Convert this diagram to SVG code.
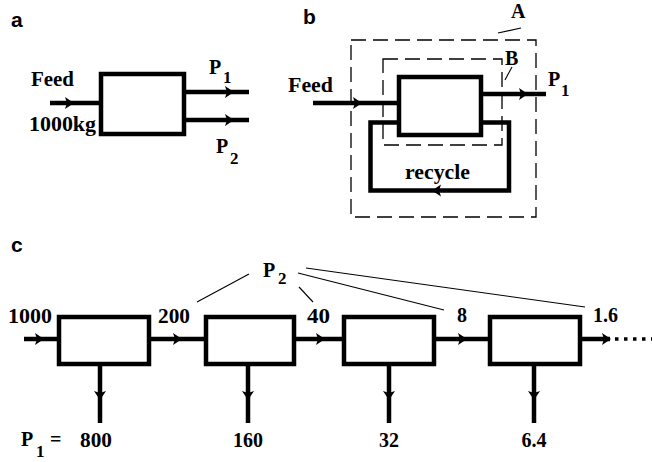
<svg xmlns="http://www.w3.org/2000/svg" xmlns:xlink="http://www.w3.org/1999/xlink" width="652" height="462" viewBox="0 0 652 462">
<style>
.lbl{font-family:"Liberation Sans",Arial,sans-serif;font-weight:bold;font-size:21px;fill:#000}
.t{font-family:"Liberation Serif","Times New Roman",serif;font-weight:bold;font-size:20px;fill:#000}
.s{font-family:"Liberation Serif","Times New Roman",serif;font-weight:bold;font-size:17px;fill:#000}
.box{fill:#fff;stroke:#000;stroke-width:4.5}
.ln{fill:none;stroke:#000;stroke-width:4.5}
.dash{fill:none;stroke:#000;stroke-width:1.3;stroke-dasharray:15,7}
.thin{fill:none;stroke:#000;stroke-width:1.1}
</style>
<defs>
<path id="ar" d="M-9,-6 L0,0 L-9,6 L-7,0 Z" fill="#000"/>
</defs>
<rect width="652" height="462" fill="#fff"/>

<!-- panel labels -->
<text class="lbl" x="11" y="27">a</text>
<text class="lbl" x="303" y="24">b</text>
<text class="lbl" x="11" y="252">c</text>

<!-- connectors -->
<g id="connectors">
  <!-- panel a -->
  <line class="ln" x1="50" y1="103" x2="100" y2="103"/>
  <use xlink:href="#ar" transform="translate(74,103)"/>
  <line class="ln" x1="184" y1="92" x2="249" y2="92"/>
  <use xlink:href="#ar" transform="translate(234,92)"/>
  <line class="ln" x1="184" y1="120" x2="249" y2="120"/>
  <use xlink:href="#ar" transform="translate(234,120)"/>

  <!-- panel b -->
  <line class="ln" x1="313" y1="103" x2="398" y2="103"/>
  <use xlink:href="#ar" transform="translate(362,103)"/>
  <line class="ln" x1="481" y1="94" x2="546" y2="94"/>
  <use xlink:href="#ar" transform="translate(528,94)"/>
  <polyline class="ln" points="481,122.5 509,122.5 509,190.5 370.5,190.5 370.5,122.5 398,122.5"/>
  <use xlink:href="#ar" transform="translate(432,190.5) rotate(180)"/>

  <!-- panel c horizontal -->
  <line class="ln" x1="24" y1="339" x2="59" y2="339"/>
  <use xlink:href="#ar" transform="translate(44,339)"/>
  <line class="ln" x1="149" y1="339" x2="206" y2="339"/>
  <use xlink:href="#ar" transform="translate(182,339)"/>
  <line class="ln" x1="294" y1="339" x2="344" y2="339"/>
  <use xlink:href="#ar" transform="translate(325,339)"/>
  <line class="ln" x1="434" y1="339" x2="490" y2="339"/>
  <use xlink:href="#ar" transform="translate(467,339)"/>
  <line class="ln" x1="580" y1="339" x2="610" y2="339"/>
  <use xlink:href="#ar" transform="translate(611,339)"/>
  <line x1="615" y1="339" x2="652" y2="339" stroke="#000" stroke-width="3.5" stroke-dasharray="3.5,5.5"/>

  <!-- panel c vertical -->
  <line class="ln" x1="100" y1="364" x2="100" y2="423"/>
  <use xlink:href="#ar" transform="translate(100,400) rotate(90)"/>
  <line class="ln" x1="248" y1="364" x2="248" y2="423"/>
  <use xlink:href="#ar" transform="translate(248,400) rotate(90)"/>
  <line class="ln" x1="389" y1="364" x2="389" y2="423"/>
  <use xlink:href="#ar" transform="translate(389,400) rotate(90)"/>
  <line class="ln" x1="534" y1="364" x2="534" y2="423"/>
  <use xlink:href="#ar" transform="translate(534,400) rotate(90)"/>

  <!-- leader lines -->
  <line class="thin" x1="498" y1="33" x2="521" y2="28"/>
  <line class="thin" x1="512" y1="67" x2="505" y2="80"/>
  <line class="thin" x1="249" y1="274" x2="197" y2="302"/>
  <line class="thin" x1="299" y1="287" x2="313" y2="302"/>
  <line class="thin" x1="298" y1="273" x2="444" y2="310"/>
  <line class="thin" x1="306" y1="268" x2="585" y2="307"/>
</g>

<!-- panel a -->
<g id="a-unit">
  <rect class="box" x="101" y="74" width="83" height="60"/>
</g>
<g id="a-labels">
  <text class="t" x="31" y="86" textLength="43" lengthAdjust="spacingAndGlyphs">Feed</text>
  <text class="t" x="29" y="131" textLength="67" lengthAdjust="spacingAndGlyphs">1000kg</text>
  <text class="t" x="209" y="74">P</text><text class="s" x="223" y="83">1</text>
  <text class="t" x="216" y="153">P</text><text class="s" x="230" y="164">2</text>
</g>

<!-- panel b -->
<g id="b-boundaryA">
  <rect class="dash" x="351" y="40" width="185" height="177"/>
  <text class="t" x="511" y="18" font-weight="normal">A</text>
</g>
<g id="b-boundaryB">
  <rect class="dash" x="383" y="59" width="119" height="86"/>
  <text class="t" x="505" y="65" font-weight="normal">B</text>
</g>
<g id="b-unit">
  <rect class="box" x="399" y="77" width="82" height="58"/>
</g>
<g id="b-labels">
  <text class="t" x="288" y="92" textLength="45" lengthAdjust="spacingAndGlyphs">Feed</text>
  <text class="t" x="548" y="86">P</text><text class="s" x="561" y="96">1</text>
  <text class="t" x="405" y="179" textLength="65" lengthAdjust="spacingAndGlyphs">recycle</text>
</g>

<!-- panel c -->
<g id="c-unit1"><rect class="box" x="59" y="317" width="90" height="47"/></g>
<g id="c-unit2"><rect class="box" x="206" y="317" width="88" height="47"/></g>
<g id="c-unit3"><rect class="box" x="344" y="317" width="90" height="47"/></g>
<g id="c-unit4"><rect class="box" x="490" y="317" width="90" height="47"/></g>
<g id="c-labels">
  <text class="t" x="8" y="323" textLength="44" lengthAdjust="spacingAndGlyphs">1000</text>
  <text class="t" x="158" y="323" textLength="32" lengthAdjust="spacingAndGlyphs">200</text>
  <text class="t" x="307" y="323" textLength="23" lengthAdjust="spacingAndGlyphs">40</text>
  <text class="t" x="457" y="322">8</text>
  <text class="t" x="593" y="322" textLength="25" lengthAdjust="spacingAndGlyphs">1.6</text>
  <text class="t" x="263" y="277">P</text><text class="s" x="278" y="284">2</text>
  <text class="t" x="21" y="446">P</text><text class="s" x="36" y="457">1</text>
  <text class="t" x="50" y="446">=</text>
  <text class="t" x="80" y="447" textLength="32" lengthAdjust="spacingAndGlyphs">800</text>
  <text class="t" x="248" y="447" text-anchor="middle">160</text>
  <text class="t" x="389" y="447" text-anchor="middle">32</text>
  <text class="t" x="534" y="447" text-anchor="middle">6.4</text>
</g>
</svg>
